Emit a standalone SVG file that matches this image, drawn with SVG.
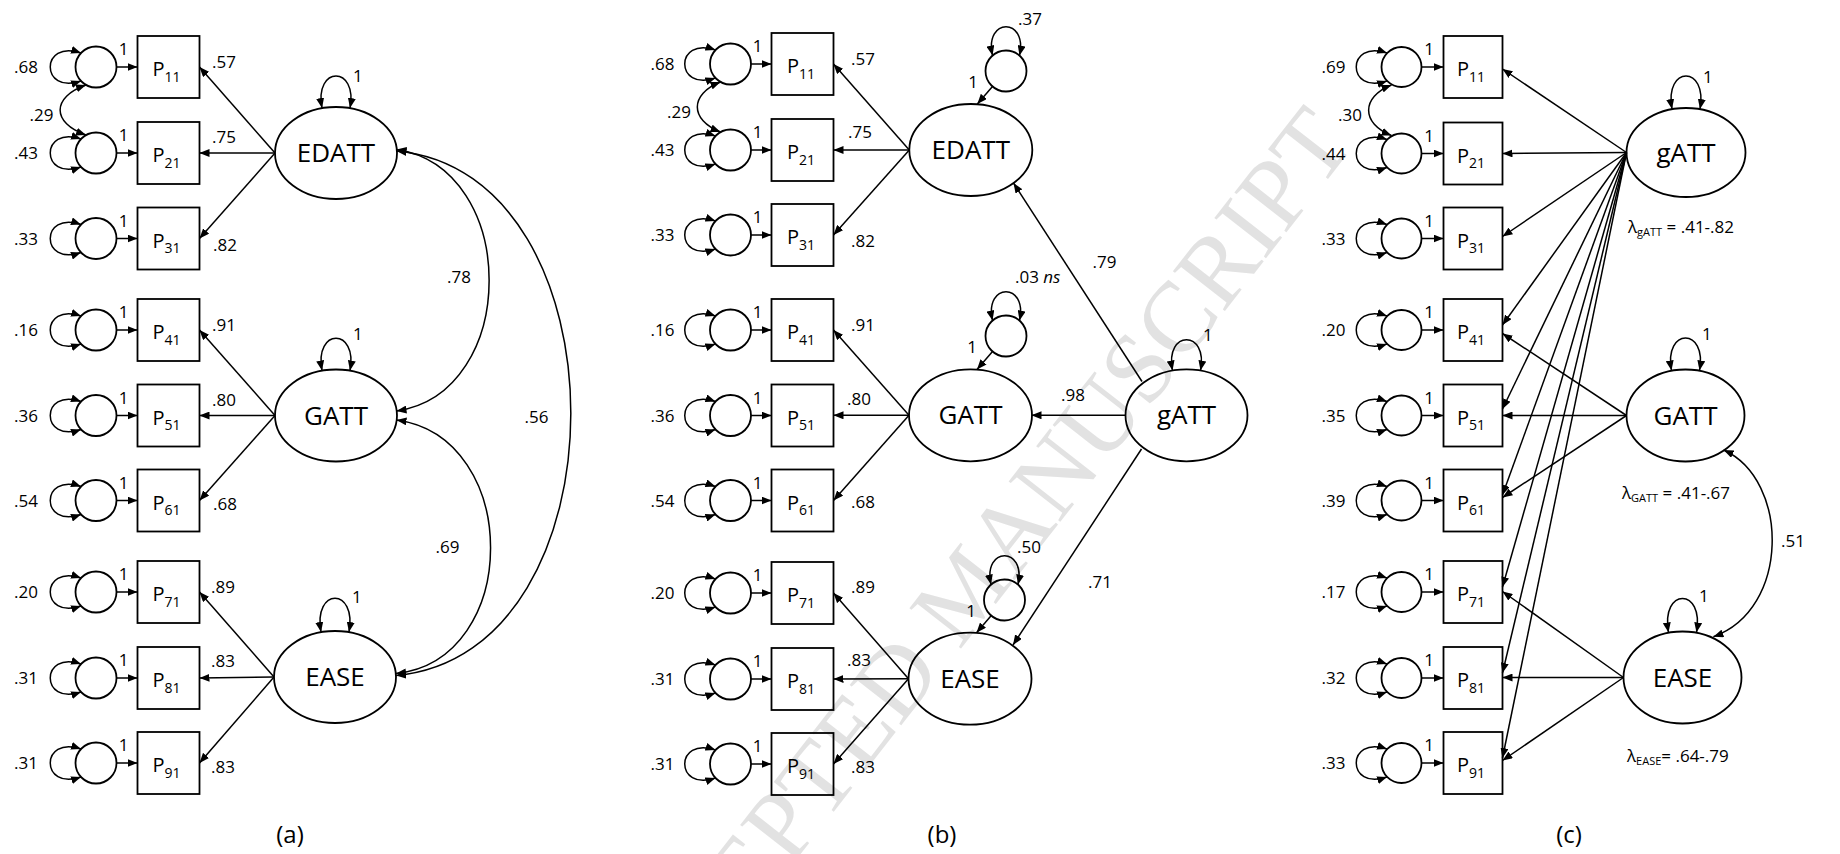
<svg xmlns="http://www.w3.org/2000/svg" width="1840" height="854" viewBox="0 0 1840 854">
<defs>
<marker id="ah" viewBox="0 0 10 8" refX="10" refY="4" markerWidth="10" markerHeight="8" markerUnits="userSpaceOnUse" orient="auto-start-reverse"><path d="M0,0L10,4L0,8z" fill="#000"/></marker>
<style>
.ln{fill:none;stroke:#000;stroke-width:1.5}
.one{marker-end:url(#ah)}
.two{marker-start:url(#ah);marker-end:url(#ah)}
.box,.err,.lat{fill:none;stroke:#000;stroke-width:1.8}
text{font-family:"Open Sans","Liberation Sans",sans-serif;fill:#000}
.n{font-size:17px}
.e{font-size:17px;text-anchor:end}
.m{font-size:17px;text-anchor:middle}
.p{font-size:20px}
.s{font-size:14px}
.f{font-size:26px;text-anchor:middle}
.lam{font-size:17px}
.ls{font-size:11px}
.cap{font-size:24px;text-anchor:middle}
.wm{font-family:"Liberation Serif",serif;font-size:100px;fill:#e2e2e2;text-anchor:middle}
</style>
</defs>
<rect width="1840" height="854" fill="#fff"/>
<text class="wm" transform="translate(965,590) rotate(-52)" y="33">ACCEPTED MANUSCRIPT</text>

<g id="connectors">
<!-- panel (a): residual variances -->
<path class="ln two" d="M81,53 C40,39 40,95 81,81"/>
<path class="ln two" d="M81,139 C40,125 40,181 81,167"/>
<path class="ln two" d="M81,224.5 C40,210.5 40,266.5 81,252.5"/>
<path class="ln two" d="M81,316 C40,302 40,358 81,344"/>
<path class="ln two" d="M81,401.5 C40,387.5 40,443.5 81,429.5"/>
<path class="ln two" d="M81,486.5 C40,472.5 40,528.5 81,514.5"/>
<path class="ln two" d="M81,578 C40,564 40,620 81,606"/>
<path class="ln two" d="M81,664 C40,650 40,706 81,692"/>
<path class="ln two" d="M81,749 C40,735 40,791 81,777"/>
<!-- panel (a): residual paths -->
<path class="ln one" d="M116.5,67 H137.5"/>
<path class="ln one" d="M116.5,153 H137.5"/>
<path class="ln one" d="M116.5,238.5 H137.5"/>
<path class="ln one" d="M116.5,330 H137.5"/>
<path class="ln one" d="M116.5,415.5 H137.5"/>
<path class="ln one" d="M116.5,500.5 H137.5"/>
<path class="ln one" d="M116.5,592 H137.5"/>
<path class="ln one" d="M116.5,678 H137.5"/>
<path class="ln one" d="M116.5,763 H137.5"/>
<path class="ln two" d="M86,85 C51.5,97 51.5,123 86,135"/>
<!-- panel (a): loadings -->
<path class="ln one" d="M275,153 L199.5,67"/>
<path class="ln one" d="M275,153 L199.5,153"/>
<path class="ln one" d="M275,153 L199.5,238.5"/>
<path class="ln one" d="M275,415.5 L199.5,330"/>
<path class="ln one" d="M275,415.5 L199.5,415.5"/>
<path class="ln one" d="M275,415.5 L199.5,500.5"/>
<path class="ln one" d="M274,677 L199.5,592"/>
<path class="ln one" d="M274,677 L199.5,678"/>
<path class="ln one" d="M274,677 L199.5,763"/>
<!-- panel (a): factor variances and correlations -->
<path class="ln two" d="M322,108 C314,65.3 358,65.3 350,108"/>
<path class="ln two" d="M322,370.5 C314,327.6 358,327.6 350,370.5"/>
<path class="ln two" d="M321,632 C313,587 357,587 349,632"/>
<path class="ln two" d="M396.5,149.5 C520,168 520,393 396.5,411"/>
<path class="ln two" d="M396.5,420 C522,437 522,660 396,673.5"/>
<path class="ln two" d="M396.5,151 C629,172 629,655 396,675.5"/>

<!-- panel (b): residual variances -->
<path class="ln two" d="M715.5,50 C674.5,36 674.5,92 715.5,78"/>
<path class="ln two" d="M715.5,136 C674.5,122 674.5,178 715.5,164"/>
<path class="ln two" d="M715.5,221 C674.5,207 674.5,263 715.5,249"/>
<path class="ln two" d="M715.5,316 C674.5,302 674.5,358 715.5,344"/>
<path class="ln two" d="M715.5,401.5 C674.5,387.5 674.5,443.5 715.5,429.5"/>
<path class="ln two" d="M715.5,486.5 C674.5,472.5 674.5,528.5 715.5,514.5"/>
<path class="ln two" d="M715.5,579 C674.5,565 674.5,621 715.5,607"/>
<path class="ln two" d="M715.5,665 C674.5,651 674.5,707 715.5,693"/>
<path class="ln two" d="M715.5,750 C674.5,736 674.5,792 715.5,778"/>
<path class="ln one" d="M751,64 H771.5"/>
<path class="ln one" d="M751,150 H771.5"/>
<path class="ln one" d="M751,235 H771.5"/>
<path class="ln one" d="M751,330 H771.5"/>
<path class="ln one" d="M751,415.5 H771.5"/>
<path class="ln one" d="M751,500.5 H771.5"/>
<path class="ln one" d="M751,593 H771.5"/>
<path class="ln one" d="M751,679 H771.5"/>
<path class="ln one" d="M751,764 H771.5"/>
<path class="ln two" d="M720.5,82 C689.6,94 689.6,120 720.5,132"/>
<!-- panel (b): loadings -->
<path class="ln one" d="M909.3,150 L833.5,64"/>
<path class="ln one" d="M909.3,150 L833.5,150"/>
<path class="ln one" d="M909.3,150 L833.5,235"/>
<path class="ln one" d="M909,415.3 L833.5,330"/>
<path class="ln one" d="M909,415.3 L833.5,415.3"/>
<path class="ln one" d="M909,415.3 L833.5,500.5"/>
<path class="ln one" d="M908.5,678.7 L833.5,593"/>
<path class="ln one" d="M908.5,678.7 L833.5,679"/>
<path class="ln one" d="M908.5,678.7 L833.5,764"/>
<!-- panel (b): second-order structure -->
<path class="ln one" d="M1125.5,415.3 H1031.5"/>
<path class="ln one" d="M1142,381.5 L1013.5,183"/>
<path class="ln one" d="M1141.5,449 L1013,645"/>
<path class="ln two" d="M1172.5,370.5 C1164.5,329.5 1208.5,329.5 1200.5,370.5"/>
<path class="ln two" d="M992.5,55.6 C984,17 1028,17 1019.5,55.6"/>
<path class="ln two" d="M992.5,320.6 C984,282 1028,282 1019.5,320.6"/>
<path class="ln two" d="M991,584.6 C982.5,546 1026.5,546 1018,584.6"/>
<path class="ln one" d="M992.5,86.5 L977.3,104"/>
<path class="ln one" d="M992.5,351.4 L977,369.5"/>
<path class="ln one" d="M991.3,615.5 L976.5,632.8"/>

<!-- panel (c): residual variances -->
<path class="ln two" d="M1387,53 C1346,39 1346,95 1387,81"/>
<path class="ln two" d="M1387,139.5 C1346,125.5 1346,181.5 1387,167.5"/>
<path class="ln two" d="M1387,224.5 C1346,210.5 1346,266.5 1387,252.5"/>
<path class="ln two" d="M1387,316 C1346,302 1346,358 1387,344"/>
<path class="ln two" d="M1387,401.5 C1346,387.5 1346,443.5 1387,429.5"/>
<path class="ln two" d="M1387,486.5 C1346,472.5 1346,528.5 1387,514.5"/>
<path class="ln two" d="M1387,578 C1346,564 1346,620 1387,606"/>
<path class="ln two" d="M1387,664 C1346,650 1346,706 1387,692"/>
<path class="ln two" d="M1387,749 C1346,735 1346,791 1387,777"/>
<path class="ln one" d="M1421.5,67 H1443.5"/>
<path class="ln one" d="M1421.5,153.5 H1443.5"/>
<path class="ln one" d="M1421.5,238.5 H1443.5"/>
<path class="ln one" d="M1421.5,330 H1443.5"/>
<path class="ln one" d="M1421.5,415.5 H1443.5"/>
<path class="ln one" d="M1421.5,500.5 H1443.5"/>
<path class="ln one" d="M1421.5,592 H1443.5"/>
<path class="ln one" d="M1421.5,678 H1443.5"/>
<path class="ln one" d="M1421.5,763 H1443.5"/>
<path class="ln two" d="M1391.5,85 C1361,97 1361,123.5 1391.5,135.5"/>
<!-- panel (c): general factor loadings -->
<path class="ln one" d="M1626.5,152.5 L1502.5,69"/>
<path class="ln one" d="M1626.5,152.5 L1502.5,153.5"/>
<path class="ln one" d="M1626.5,152.5 L1502.5,236.5"/>
<path class="ln one" d="M1626.5,152.5 L1502.5,325"/>
<path class="ln one" d="M1626.5,152.5 L1502.5,409"/>
<path class="ln one" d="M1626.5,152.5 L1502.5,495"/>
<path class="ln one" d="M1626.5,152.5 L1502.5,587"/>
<path class="ln one" d="M1626.5,152.5 L1502.5,673"/>
<path class="ln one" d="M1626.5,152.5 L1502.5,758"/>
<!-- panel (c): specific factor loadings -->
<path class="ln one" d="M1626.5,415.5 L1502.5,333.5"/>
<path class="ln one" d="M1626.5,415.5 L1502.5,415.5"/>
<path class="ln one" d="M1626.5,415.5 L1502.5,497.5"/>
<path class="ln one" d="M1623.5,677.5 L1502.5,591.5"/>
<path class="ln one" d="M1623.5,677.5 L1502.5,677.5"/>
<path class="ln one" d="M1623.5,677.5 L1502.5,760.5"/>
<path class="ln two" d="M1672,109 C1664,65 1708,65 1700,109"/>
<path class="ln two" d="M1671.5,370.5 C1663.5,327.2 1707.5,327.2 1699.5,370.5"/>
<path class="ln two" d="M1668.5,632.5 C1660.5,587 1704.5,587 1696.5,632.5"/>
<path class="ln two" d="M1723.6,450 C1790,480 1790,610 1713.4,636.7"/>
</g>

<g id="nodes">
<!-- panel (a) -->
<g id="a-e1"><circle class="err" cx="96" cy="67" r="20.5"/></g>
<g id="a-e2"><circle class="err" cx="96" cy="153" r="20.5"/></g>
<g id="a-e3"><circle class="err" cx="96" cy="238.5" r="20.5"/></g>
<g id="a-e4"><circle class="err" cx="96" cy="330" r="20.5"/></g>
<g id="a-e5"><circle class="err" cx="96" cy="415.5" r="20.5"/></g>
<g id="a-e6"><circle class="err" cx="96" cy="500.5" r="20.5"/></g>
<g id="a-e7"><circle class="err" cx="96" cy="592" r="20.5"/></g>
<g id="a-e8"><circle class="err" cx="96" cy="678" r="20.5"/></g>
<g id="a-e9"><circle class="err" cx="96" cy="763" r="20.5"/></g>
<g id="a-P11"><rect class="box" x="137.5" y="36" width="62" height="62"/><text class="p" x="152.5" y="76">P<tspan class="s" dy="5.5">11</tspan></text></g>
<g id="a-P21"><rect class="box" x="137.5" y="122" width="62" height="62"/><text class="p" x="152.5" y="162">P<tspan class="s" dy="5.5">21</tspan></text></g>
<g id="a-P31"><rect class="box" x="137.5" y="207.5" width="62" height="62"/><text class="p" x="152.5" y="247.5">P<tspan class="s" dy="5.5">31</tspan></text></g>
<g id="a-P41"><rect class="box" x="137.5" y="299" width="62" height="62"/><text class="p" x="152.5" y="339">P<tspan class="s" dy="5.5">41</tspan></text></g>
<g id="a-P51"><rect class="box" x="137.5" y="384.5" width="62" height="62"/><text class="p" x="152.5" y="424.5">P<tspan class="s" dy="5.5">51</tspan></text></g>
<g id="a-P61"><rect class="box" x="137.5" y="469.5" width="62" height="62"/><text class="p" x="152.5" y="509.5">P<tspan class="s" dy="5.5">61</tspan></text></g>
<g id="a-P71"><rect class="box" x="137.5" y="561" width="62" height="62"/><text class="p" x="152.5" y="601">P<tspan class="s" dy="5.5">71</tspan></text></g>
<g id="a-P81"><rect class="box" x="137.5" y="647" width="62" height="62"/><text class="p" x="152.5" y="687">P<tspan class="s" dy="5.5">81</tspan></text></g>
<g id="a-P91"><rect class="box" x="137.5" y="732" width="62" height="62"/><text class="p" x="152.5" y="772">P<tspan class="s" dy="5.5">91</tspan></text></g>
<g id="a-EDATT"><ellipse class="lat" cx="336" cy="153" rx="61" ry="46"/><text class="f" x="336" y="162">EDATT</text></g>
<g id="a-GATT"><ellipse class="lat" cx="336" cy="415.5" rx="61" ry="46"/><text class="f" x="336" y="424.5">GATT</text></g>
<g id="a-EASE"><ellipse class="lat" cx="335" cy="677" rx="61" ry="46"/><text class="f" x="335" y="686">EASE</text></g>

<!-- panel (b) -->
<g id="b-e1"><circle class="err" cx="730.5" cy="64" r="20.5"/></g>
<g id="b-e2"><circle class="err" cx="730.5" cy="150" r="20.5"/></g>
<g id="b-e3"><circle class="err" cx="730.5" cy="235" r="20.5"/></g>
<g id="b-e4"><circle class="err" cx="730.5" cy="330" r="20.5"/></g>
<g id="b-e5"><circle class="err" cx="730.5" cy="415.5" r="20.5"/></g>
<g id="b-e6"><circle class="err" cx="730.5" cy="500.5" r="20.5"/></g>
<g id="b-e7"><circle class="err" cx="730.5" cy="593" r="20.5"/></g>
<g id="b-e8"><circle class="err" cx="730.5" cy="679" r="20.5"/></g>
<g id="b-e9"><circle class="err" cx="730.5" cy="764" r="20.5"/></g>
<g id="b-P11"><rect class="box" x="771.5" y="33" width="62" height="62"/><text class="p" x="787" y="73">P<tspan class="s" dy="5.5">11</tspan></text></g>
<g id="b-P21"><rect class="box" x="771.5" y="119" width="62" height="62"/><text class="p" x="787" y="159">P<tspan class="s" dy="5.5">21</tspan></text></g>
<g id="b-P31"><rect class="box" x="771.5" y="204" width="62" height="62"/><text class="p" x="787" y="244">P<tspan class="s" dy="5.5">31</tspan></text></g>
<g id="b-P41"><rect class="box" x="771.5" y="299" width="62" height="62"/><text class="p" x="787" y="339">P<tspan class="s" dy="5.5">41</tspan></text></g>
<g id="b-P51"><rect class="box" x="771.5" y="384.5" width="62" height="62"/><text class="p" x="787" y="424.5">P<tspan class="s" dy="5.5">51</tspan></text></g>
<g id="b-P61"><rect class="box" x="771.5" y="469.5" width="62" height="62"/><text class="p" x="787" y="509.5">P<tspan class="s" dy="5.5">61</tspan></text></g>
<g id="b-P71"><rect class="box" x="771.5" y="562" width="62" height="62"/><text class="p" x="787" y="602">P<tspan class="s" dy="5.5">71</tspan></text></g>
<g id="b-P81"><rect class="box" x="771.5" y="648" width="62" height="62"/><text class="p" x="787" y="688">P<tspan class="s" dy="5.5">81</tspan></text></g>
<g id="b-P91"><rect class="box" x="771.5" y="733" width="62" height="62"/><text class="p" x="787" y="773">P<tspan class="s" dy="5.5">91</tspan></text></g>
<g id="b-EDATT"><ellipse class="lat" cx="970.8" cy="150" rx="61.5" ry="46"/><text class="f" x="970.8" y="159">EDATT</text></g>
<g id="b-GATT"><ellipse class="lat" cx="970.5" cy="415.3" rx="61.5" ry="46"/><text class="f" x="970.5" y="424.3">GATT</text></g>
<g id="b-EASE"><ellipse class="lat" cx="970" cy="678.7" rx="61.5" ry="46"/><text class="f" x="970" y="687.7">EASE</text></g>
<g id="b-gATT"><ellipse class="lat" cx="1186.5" cy="415.3" rx="61" ry="46"/><text class="f" x="1186.5" y="424.3">gATT</text></g>
<g id="b-dEDATT"><circle class="err" cx="1006" cy="71" r="20.5"/></g>
<g id="b-dGATT"><circle class="err" cx="1006" cy="336" r="20.5"/></g>
<g id="b-dEASE"><circle class="err" cx="1004.5" cy="600" r="20.5"/></g>

<!-- panel (c) -->
<g id="c-e1"><circle class="err" cx="1401.5" cy="67" r="20"/></g>
<g id="c-e2"><circle class="err" cx="1401.5" cy="153.5" r="20"/></g>
<g id="c-e3"><circle class="err" cx="1401.5" cy="238.5" r="20"/></g>
<g id="c-e4"><circle class="err" cx="1401.5" cy="330" r="20"/></g>
<g id="c-e5"><circle class="err" cx="1401.5" cy="415.5" r="20"/></g>
<g id="c-e6"><circle class="err" cx="1401.5" cy="500.5" r="20"/></g>
<g id="c-e7"><circle class="err" cx="1401.5" cy="592" r="20"/></g>
<g id="c-e8"><circle class="err" cx="1401.5" cy="678" r="20"/></g>
<g id="c-e9"><circle class="err" cx="1401.5" cy="763" r="20"/></g>
<g id="c-P11"><rect class="box" x="1443.5" y="36" width="59" height="62"/><text class="p" x="1457" y="76">P<tspan class="s" dy="5.5">11</tspan></text></g>
<g id="c-P21"><rect class="box" x="1443.5" y="122.5" width="59" height="62"/><text class="p" x="1457" y="162.5">P<tspan class="s" dy="5.5">21</tspan></text></g>
<g id="c-P31"><rect class="box" x="1443.5" y="207.5" width="59" height="62"/><text class="p" x="1457" y="247.5">P<tspan class="s" dy="5.5">31</tspan></text></g>
<g id="c-P41"><rect class="box" x="1443.5" y="299" width="59" height="62"/><text class="p" x="1457" y="339">P<tspan class="s" dy="5.5">41</tspan></text></g>
<g id="c-P51"><rect class="box" x="1443.5" y="384.5" width="59" height="62"/><text class="p" x="1457" y="424.5">P<tspan class="s" dy="5.5">51</tspan></text></g>
<g id="c-P61"><rect class="box" x="1443.5" y="469.5" width="59" height="62"/><text class="p" x="1457" y="509.5">P<tspan class="s" dy="5.5">61</tspan></text></g>
<g id="c-P71"><rect class="box" x="1443.5" y="561" width="59" height="62"/><text class="p" x="1457" y="601">P<tspan class="s" dy="5.5">71</tspan></text></g>
<g id="c-P81"><rect class="box" x="1443.5" y="647" width="59" height="62"/><text class="p" x="1457" y="687">P<tspan class="s" dy="5.5">81</tspan></text></g>
<g id="c-P91"><rect class="box" x="1443.5" y="732" width="59" height="62"/><text class="p" x="1457" y="772">P<tspan class="s" dy="5.5">91</tspan></text></g>
<g id="c-gATT"><ellipse class="lat" cx="1686" cy="152.5" rx="59.5" ry="44.5"/><text class="f" x="1686" y="161.5">gATT</text></g>
<g id="c-GATT"><ellipse class="lat" cx="1685.5" cy="415.5" rx="59" ry="46"/><text class="f" x="1685.5" y="424.5">GATT</text></g>
<g id="c-EASE"><ellipse class="lat" cx="1682.5" cy="677.5" rx="59" ry="46"/><text class="f" x="1682.5" y="686.5">EASE</text></g>
</g>

<g id="labels">
<!-- panel (a) -->
<text class="m" x="123.5" y="55">1</text><text class="m" x="123.5" y="141">1</text><text class="m" x="123.5" y="226.5">1</text>
<text class="m" x="123.5" y="318">1</text><text class="m" x="123.5" y="403.5">1</text><text class="m" x="123.5" y="488.5">1</text>
<text class="m" x="123.5" y="580">1</text><text class="m" x="123.5" y="666">1</text><text class="m" x="123.5" y="751">1</text>
<text class="e" x="38" y="73">.68</text><text class="e" x="38" y="159">.43</text><text class="e" x="38" y="244.5">.33</text>
<text class="e" x="38" y="336">.16</text><text class="e" x="38" y="421.5">.36</text><text class="e" x="38" y="506.5">.54</text>
<text class="e" x="38" y="598">.20</text><text class="e" x="38" y="684">.31</text><text class="e" x="38" y="769">.31</text>
<text class="e" x="53.5" y="121">.29</text>
<text class="n" x="212" y="68">.57</text><text class="n" x="212" y="143">.75</text><text class="n" x="213" y="250.5">.82</text>
<text class="n" x="212" y="331">.91</text><text class="n" x="212" y="405.5">.80</text><text class="n" x="213" y="509.5">.68</text>
<text class="n" x="211" y="593">.89</text><text class="n" x="211" y="667">.83</text><text class="n" x="211" y="772.5">.83</text>
<text class="n" x="353" y="82">1</text><text class="n" x="353" y="340">1</text><text class="n" x="352" y="603">1</text>
<text class="n" x="447" y="283">.78</text><text class="n" x="435.5" y="553">.69</text><text class="n" x="524.5" y="423">.56</text>
<text class="cap" x="290" y="843">(a)</text>

<!-- panel (b) -->
<text class="m" x="757.5" y="52">1</text><text class="m" x="757.5" y="138">1</text><text class="m" x="757.5" y="223">1</text>
<text class="m" x="757.5" y="318">1</text><text class="m" x="757.5" y="403.5">1</text><text class="m" x="757.5" y="488.5">1</text>
<text class="m" x="757.5" y="581">1</text><text class="m" x="757.5" y="667">1</text><text class="m" x="757.5" y="752">1</text>
<text class="e" x="674.5" y="70">.68</text><text class="e" x="674.5" y="156">.43</text><text class="e" x="674.5" y="241">.33</text>
<text class="e" x="674.5" y="336">.16</text><text class="e" x="674.5" y="421.5">.36</text><text class="e" x="674.5" y="506.5">.54</text>
<text class="e" x="674.5" y="599">.20</text><text class="e" x="674.5" y="685">.31</text><text class="e" x="674.5" y="770">.31</text>
<text class="e" x="691" y="118">.29</text>
<text class="n" x="851" y="65">.57</text><text class="n" x="848" y="138">.75</text><text class="n" x="851" y="247">.82</text>
<text class="n" x="851" y="331">.91</text><text class="n" x="847" y="404.5">.80</text><text class="n" x="851" y="508">.68</text>
<text class="n" x="851" y="593">.89</text><text class="n" x="847" y="666">.83</text><text class="n" x="851" y="772.5">.83</text>
<text class="n" x="1018" y="25">.37</text>
<text class="n" x="1015" y="282.5">.03 <tspan font-style="italic">ns</tspan></text>
<text class="n" x="1017" y="553">.50</text>
<text class="e" x="978" y="88">1</text><text class="e" x="977" y="353">1</text><text class="e" x="976" y="617">1</text>
<text class="n" x="1203" y="341">1</text>
<text class="n" x="1092.5" y="268">.79</text><text class="n" x="1061" y="401">.98</text><text class="n" x="1088" y="588">.71</text>
<text class="cap" x="942" y="843">(b)</text>

<!-- panel (c) -->
<text class="m" x="1429" y="55">1</text><text class="m" x="1429" y="141.5">1</text><text class="m" x="1429" y="226.5">1</text>
<text class="m" x="1429" y="318">1</text><text class="m" x="1429" y="403.5">1</text><text class="m" x="1429" y="488.5">1</text>
<text class="m" x="1429" y="580">1</text><text class="m" x="1429" y="666">1</text><text class="m" x="1429" y="751">1</text>
<text class="e" x="1345.5" y="73">.69</text><text class="e" x="1345.5" y="159.5">.44</text><text class="e" x="1345.5" y="244.5">.33</text>
<text class="e" x="1345.5" y="336">.20</text><text class="e" x="1345.5" y="421.5">.35</text><text class="e" x="1345.5" y="506.5">.39</text>
<text class="e" x="1345.5" y="598">.17</text><text class="e" x="1345.5" y="684">.32</text><text class="e" x="1345.5" y="769">.33</text>
<text class="e" x="1362" y="121">.30</text>
<text class="n" x="1703" y="83">1</text><text class="n" x="1702" y="340">1</text><text class="n" x="1699" y="602">1</text>
<text class="n" x="1781" y="547">.51</text>
<text class="lam" x="1628" y="232.5">λ<tspan class="ls" dy="3">gATT</tspan><tspan dy="-3"> = .41-.82</tspan></text>
<text class="lam" x="1622" y="498.5">λ<tspan class="ls" dy="3">GATT</tspan><tspan dy="-3"> = .41-.67</tspan></text>
<text class="lam" x="1627" y="761.5">λ<tspan class="ls" dy="3">EASE</tspan><tspan dy="-3">= .64-.79</tspan></text>
<text class="cap" x="1569" y="843">(c)</text>
</g>
</svg>
